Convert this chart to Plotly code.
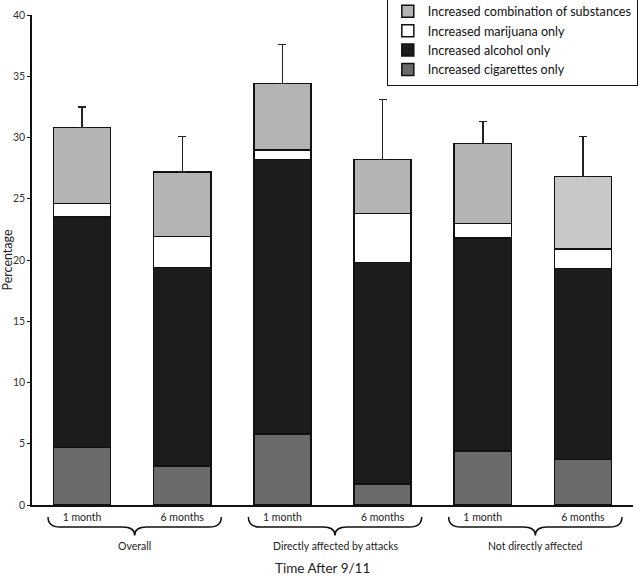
import plotly.graph_objects as go

groups = ["Overall", "Directly affected by attacks", "Not directly affected"]
time_labels = ["1 month", "6 months", "1 month", "6 months", "1 month", "6 months"]

cigarettes = [4.7, 3.2, 5.8, 1.7, 4.4, 3.7]
alcohol = [18.8, 16.2, 22.4, 18.1, 17.4, 15.6]
marijuana = [1.1, 2.5, 0.8, 4.0, 1.2, 1.6]
combination = [6.2, 5.3, 5.4, 4.4, 6.5, 5.9]
error_upper = [1.7, 2.9, 3.2, 4.9, 1.8, 3.3]

x = list(range(len(time_labels)))
FONT = "Lato"
line = dict(color="#111111", width=1.5)

fig = go.Figure()
fig.add_trace(go.Bar(x=x, y=cigarettes, name="Increased cigarettes only",
                     marker=dict(color="#6b6b6b", line=line), width=0.57))
fig.add_trace(go.Bar(x=x, y=alcohol, name="Increased alcohol only",
                     marker=dict(color="#1c1c1c", line=line), width=0.57))
fig.add_trace(go.Bar(x=x, y=marijuana, name="Increased marijuana only",
                     marker=dict(color="#ffffff", line=line), width=0.57))
fig.add_trace(go.Bar(x=x, y=combination, name="Increased combination of substances",
                     marker=dict(color=["#b4b4b4"] * 5 + ["#c8c8c8"], line=line), width=0.57,
                     error_y=dict(type="data", symmetric=False, array=error_upper,
                                  arrayminus=[0] * len(x), color="#222222",
                                  thickness=1.5, width=4)))

shapes = []
annotations = []
y1, y2, y3 = -0.0245, -0.045, -0.062
for g, name in enumerate(groups):
    i = 2 * g
    xl, xr = i - 0.34, i + 1 + 0.39
    c = (xl + xr) / 2
    path = (f"M {xl},{y1} Q {xl},{y2} {xl+0.12},{y2} L {c-0.12},{y2} "
            f"Q {c},{y2} {c},{y3} Q {c},{y2} {c+0.12},{y2} L {xr-0.12},{y2} "
            f"Q {xr},{y2} {xr},{y1}")
    shapes.append(dict(type="path", path=path, xref="x", yref="paper",
                       line=dict(color="#111111", width=1.5)))
    annotations.append(dict(text=name, x=c, y=-0.0837, xref="x", yref="paper",
                            showarrow=False, yanchor="middle", xanchor="center",
                            font=dict(family=FONT, size=10.5, color="#222222")))

annotations.append(dict(text="Time After 9/11", x=2.405, y=-0.129, xref="x", yref="paper",
                        showarrow=False, yanchor="middle", xanchor="center", borderpad=0,
                        font=dict(family=FONT, size=13.5, color="#222222")))

fig.update_layout(
    barmode="stack",
    width=640, height=578,
    margin=dict(l=32, r=7, t=15, b=73, autoexpand=False),
    paper_bgcolor="white", plot_bgcolor="white",
    font=dict(family=FONT, color="#222222"),
    showlegend=True,
    legend=dict(traceorder="reversed", x=1.008, y=1.0395, xref="paper", yref="paper",
                xanchor="right", yanchor="top", bordercolor="#111111", borderwidth=1,
                bgcolor="white", font=dict(family=FONT, size=12.6, color="#111111"),
                itemwidth=30, tracegroupgap=0),
    xaxis=dict(range=[-0.5, 5.5], tickmode="array", tickvals=x, ticktext=time_labels,
               showline=True, linecolor="#111111", linewidth=1.5, ticks="",
               ticklabelstandoff=2,
               showgrid=False, zeroline=False, tickfont=dict(family=FONT, size=10.5, color="#222222")),
    yaxis=dict(range=[0, 40], dtick=5, showline=True, linecolor="#111111", linewidth=1.5,
               ticks="outside", ticklen=3, tickcolor="#111111", showgrid=False, zeroline=False,
               tickfont=dict(family=FONT, size=10.5, color="#333333"),
               title=dict(text="Percentage", font=dict(family=FONT, size=12.5, color="#222222"),
                          standoff=6)),
    shapes=shapes,
    annotations=annotations,
)

fig.write_html("out.html", config={"displayModeBar": False},
               post_script="document.body.style.margin='0';")
